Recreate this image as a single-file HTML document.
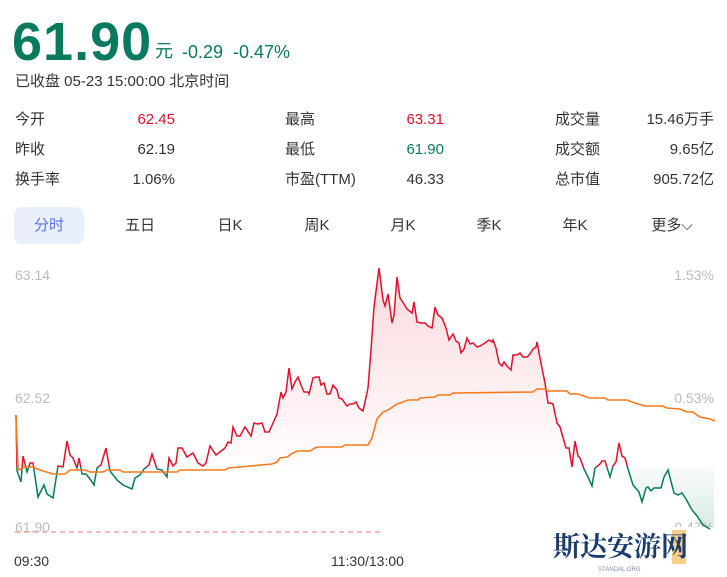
<!DOCTYPE html>
<html><head><meta charset="utf-8"><style>
body{margin:0;width:727px;height:577px;background:#fff;font-family:"Liberation Sans","Noto Sans CJK SC",sans-serif;color:#333;position:relative;overflow:hidden}
.a{position:absolute;white-space:nowrap}
.r{text-align:right}
.f15{font-size:15px;line-height:20px}
.g{color:#0a7a5e}.red{color:#e0102a}
.tab{position:absolute;top:216px;font-size:15px;line-height:20px;color:#333;transform:translateX(-50%)}
.ax{position:absolute;font-size:14px;line-height:16px;color:#bbb}
</style></head><body>
<div class="a g" style="left:12px;top:14px;font-size:54px;font-weight:bold;letter-spacing:1px;line-height:56px">61.90</div>
<div class="a g" style="left:155px;top:40px;font-size:18px;line-height:22px">元</div>
<div class="a g" style="left:182px;top:41px;font-size:18px;line-height:22px">-0.29&nbsp;&nbsp;-0.47%</div>
<div class="a f15" style="left:15px;top:72px">已收盘 05-23 15:00:00 北京时间</div>

<div class="a f15" style="left:15px;top:110px">今开</div>
<div class="a f15" style="left:15px;top:140px">昨收</div>
<div class="a f15" style="left:15px;top:170px">换手率</div>
<div class="a f15 r red" style="right:552px;top:110px">62.45</div>
<div class="a f15 r" style="right:552px;top:140px">62.19</div>
<div class="a f15 r" style="right:552px;top:170px">1.06%</div>

<div class="a f15" style="left:285px;top:110px">最高</div>
<div class="a f15" style="left:285px;top:140px">最低</div>
<div class="a f15" style="left:285px;top:170px">市盈(TTM)</div>
<div class="a f15 r red" style="right:283px;top:110px">63.31</div>
<div class="a f15 r g" style="right:283px;top:140px">61.90</div>
<div class="a f15 r" style="right:283px;top:170px">46.33</div>

<div class="a f15" style="left:555px;top:110px">成交量</div>
<div class="a f15" style="left:555px;top:140px">成交额</div>
<div class="a f15" style="left:555px;top:170px">总市值</div>
<div class="a f15 r" style="right:13px;top:110px">15.46万手</div>
<div class="a f15 r" style="right:13px;top:140px">9.65亿</div>
<div class="a f15 r" style="right:13px;top:170px">905.72亿</div>

<div class="a" style="left:14px;top:207px;width:70px;height:37px;background:#e8f0fe;border-radius:8px"></div>
<div class="tab" style="left:49px;color:#5b6ee0">分时</div>
<div class="tab" style="left:140px">五日</div>
<div class="tab" style="left:230px">日K</div>
<div class="tab" style="left:317px">周K</div>
<div class="tab" style="left:403px">月K</div>
<div class="tab" style="left:489px">季K</div>
<div class="tab" style="left:575px">年K</div>
<div class="tab" style="left:672px">更多⌵</div>

<div class="ax" style="left:15px;top:267px">63.14</div>
<div class="ax" style="left:15px;top:390px">62.52</div>
<div class="ax" style="left:15px;top:519px">61.90</div>
<div class="ax" style="right:13px;top:267px">1.53%</div>
<div class="ax" style="right:13px;top:390px">0.53%</div>
<div class="ax" style="right:13px;top:519px">-0.47%</div>

<svg class="a" style="left:0;top:0" width="727" height="577">
<defs>
<linearGradient id="rg" x1="0" y1="268" x2="0" y2="467" gradientUnits="userSpaceOnUse"><stop offset="0" stop-color="#e0102a" stop-opacity="0.16"/><stop offset="1" stop-color="#e0102a" stop-opacity="0.01"/></linearGradient>
<linearGradient id="gg" x1="0" y1="467" x2="0" y2="530" gradientUnits="userSpaceOnUse"><stop offset="0" stop-color="#0a7a5e" stop-opacity="0.02"/><stop offset="1" stop-color="#0a7a5e" stop-opacity="0.16"/></linearGradient>
<clipPath id="ca"><rect x="0" y="0" width="727" height="467"/></clipPath>
<clipPath id="cb"><rect x="0" y="467" width="727" height="110"/></clipPath>
<polyline id="p" points="16,415 17,471 21,482 23,456 27,472 30,463 33,463 38,497 44,485 47,494 53,498 58,466 63,467 67,441 70,455 73,458 77,468 79,458 82,474 86,474 90,479 94,485 97,468 101,465 106,448 110,471 117,480 123,485 132,489 135,478 140,475 144,469 149,465 152,454 157,469 162,470 167,477 169,458 173,466 176,463 178,448 182,448 187,457 193,453 198,463 203,466 206,463 210,446 216,455 225,448 228,442 231,443 233,427 237,436 240,436 245,427 251,436 254,423 258,424 262,423 265,432 269,432 273,423 277,414 281,392 283,398 286,392 289,368 292,389 295,382 298,377 301,385 304,392 308,392 309,394 313,378 316,377 319,377 321,385 324,383 327,394 330,394 333,385 337,390 339,398 342,399 347,406 350,404 353,404 356,402 359,408 363,411 368,388 371,350 374,307 379,268 383,300 385,306 388,294 392,323 394,315 397,277 400,298 404,304 407,309 412,313 414,302 417,322 421,323 425,323 428,326 432,328 435,307 438,315 442,318 446,328 449,340 453,334 456,341 459,343 461,353 464,349 467,338 470,344 473,343 477,347 480,346 485,343 489,340 492,342 493,340 496,348 499,363 502,366 504,362 507,366 511,370 513,355 517,355 520,353 523,357 527,357 530,354 533,349 536,347 537,342 540,358 545,383 548,403 550,403 553,404 557,423 560,427 566,448 569,448 572,467 575,441 578,456 580,458 584,469 588,477 592,486 595,468 600,464 602,461 605,461 610,477 613,466 616,462 619,443 622,456 625,458 628,469 633,485 639,492 642,502 646,488 648,487 651,491 654,488 661,488 664,477 668,470 674,493 678,495 682,493 686,499 692,510 697,516 703,525 710,529"/>
</defs>
<polygon points="16,467 16,415 17,471 21,482 23,456 27,472 30,463 33,463 38,497 44,485 47,494 53,498 58,466 63,467 67,441 70,455 73,458 77,468 79,458 82,474 86,474 90,479 94,485 97,468 101,465 106,448 110,471 117,480 123,485 132,489 135,478 140,475 144,469 149,465 152,454 157,469 162,470 167,477 169,458 173,466 176,463 178,448 182,448 187,457 193,453 198,463 203,466 206,463 210,446 216,455 225,448 228,442 231,443 233,427 237,436 240,436 245,427 251,436 254,423 258,424 262,423 265,432 269,432 273,423 277,414 281,392 283,398 286,392 289,368 292,389 295,382 298,377 301,385 304,392 308,392 309,394 313,378 316,377 319,377 321,385 324,383 327,394 330,394 333,385 337,390 339,398 342,399 347,406 350,404 353,404 356,402 359,408 363,411 368,388 371,350 374,307 379,268 383,300 385,306 388,294 392,323 394,315 397,277 400,298 404,304 407,309 412,313 414,302 417,322 421,323 425,323 428,326 432,328 435,307 438,315 442,318 446,328 449,340 453,334 456,341 459,343 461,353 464,349 467,338 470,344 473,343 477,347 480,346 485,343 489,340 492,342 493,340 496,348 499,363 502,366 504,362 507,366 511,370 513,355 517,355 520,353 523,357 527,357 530,354 533,349 536,347 537,342 540,358 545,383 548,403 550,403 553,404 557,423 560,427 566,448 569,448 572,467 575,441 578,456 580,458 584,469 588,477 592,486 595,468 600,464 602,461 605,461 610,477 613,466 616,462 619,443 622,456 625,458 628,469 633,485 639,492 642,502 646,488 648,487 651,491 654,488 661,488 664,477 668,470 674,493 678,495 682,493 686,499 692,510 697,516 703,525 710,529 714,529 714,467" fill="url(#rg)" clip-path="url(#ca)"/>
<polygon points="16,467 16,415 17,471 21,482 23,456 27,472 30,463 33,463 38,497 44,485 47,494 53,498 58,466 63,467 67,441 70,455 73,458 77,468 79,458 82,474 86,474 90,479 94,485 97,468 101,465 106,448 110,471 117,480 123,485 132,489 135,478 140,475 144,469 149,465 152,454 157,469 162,470 167,477 169,458 173,466 176,463 178,448 182,448 187,457 193,453 198,463 203,466 206,463 210,446 216,455 225,448 570,448 572,467 575,441 578,456 580,458 584,469 588,477 592,486 595,468 600,464 602,461 605,461 610,477 613,466 616,462 619,443 622,456 625,458 628,469 633,485 639,492 642,502 646,488 648,487 651,491 654,488 661,488 664,477 668,470 674,493 678,495 682,493 686,499 692,510 697,516 703,525 710,529 714,529 714,467" fill="url(#gg)" clip-path="url(#cb)"/>
<rect x="660" y="527" width="67" height="20" fill="#fff"/>
<line x1="15" y1="532" x2="380" y2="532" stroke="#f4a0a0" stroke-width="1.5" stroke-dasharray="5,4"/>
<use href="#p" fill="none" stroke="#e0102a" stroke-width="1.5" clip-path="url(#ca)"/>
<use href="#p" fill="none" stroke="#0a7a5e" stroke-width="1.5" clip-path="url(#cb)"/>
<polyline fill="none" stroke="#f47a20" stroke-width="1.6" points="16,415 18,470 25,467 33,467 40,470 53,474 65,474 70,470 85,470 90,472 103,472 107,470 120,470 123,472 177,472 180,470 225,470 228,468 240,467 250,466 272,464 277,462 280,458 287,457 293,453 298,451 310,451 315,448 318,447 342,447 345,445 368,445 372,438 377,419 383,412 388,410 397,404 403,402 408,400 418,400 420,398 435,397 438,395 450,395 453,393 533,392 537,389 545,389 548,391 567,391 570,394 578,394 590,398 605,398 608,400 627,400 632,402 638,404 645,406 663,406 667,408 680,409 687,412 693,412 700,417 710,419 715,421"/>
<rect x="672" y="530" width="14" height="34" fill="#f6c36a" opacity="0.8"/>
<text x="553" y="556" font-family="'Noto Serif CJK SC',serif" font-size="27" font-weight="bold" fill="#1d3c6e">斯达安游网</text>
<text x="598" y="571" font-family="'Liberation Sans',sans-serif" font-size="6" fill="#7a8aa0">STANDAL.ORG</text>
</svg>
<div class="a" style="left:14px;top:553px;font-size:14px;color:#333">09:30</div>
<div class="a" style="left:331px;top:553px;font-size:14px;color:#333">11:30/13:00</div>
</body></html>
